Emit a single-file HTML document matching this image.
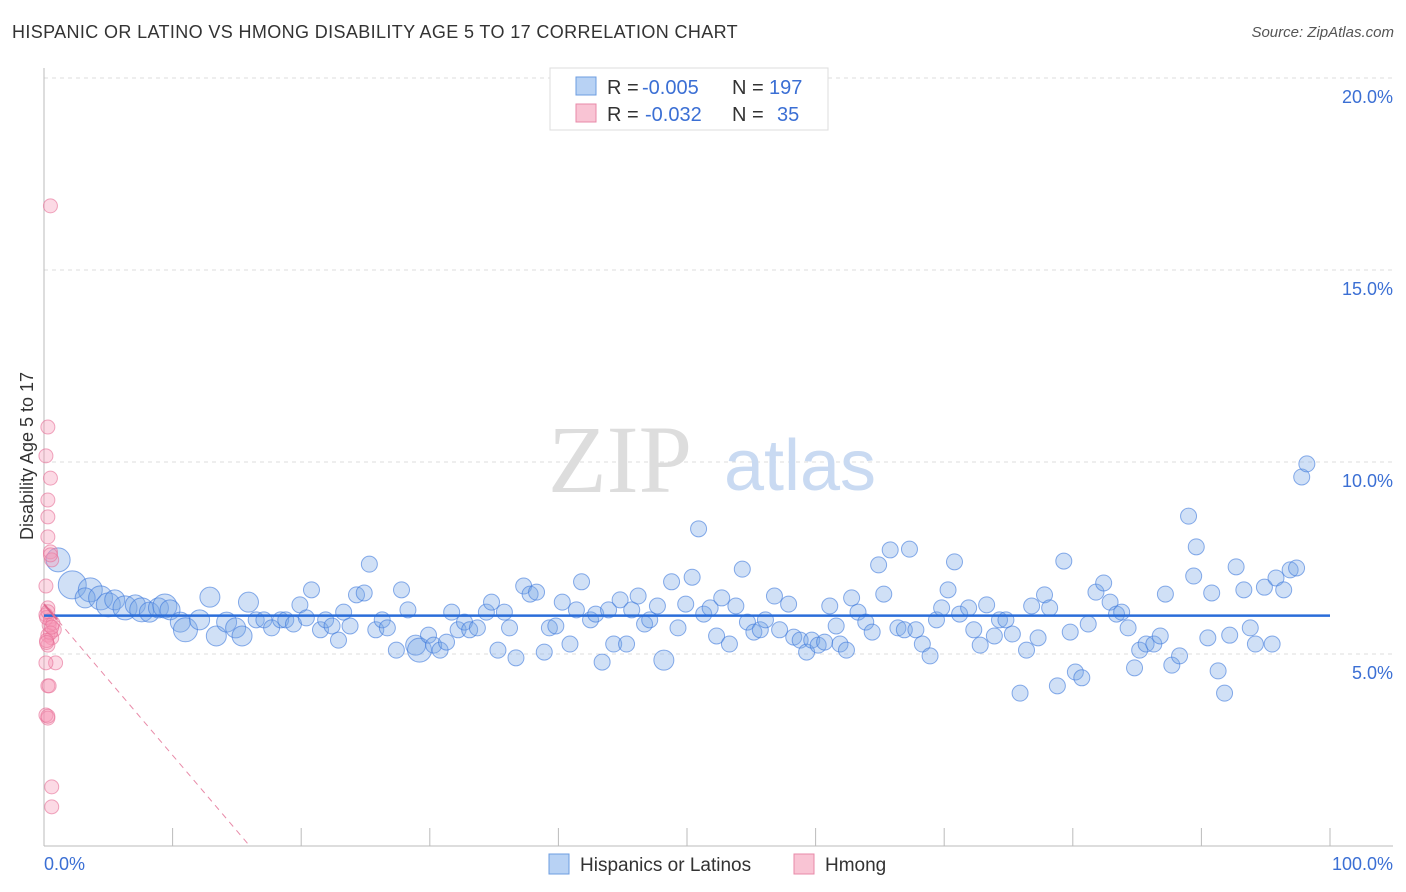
<!DOCTYPE html>
<html><head><meta charset="utf-8"><style>
body{margin:0;background:#fff;font-family:"Liberation Sans",sans-serif}
#wrap{position:relative;width:1406px;height:892px;overflow:hidden}
.t{position:absolute;white-space:nowrap}
</style></head><body><div id="wrap">
<div class="t" style="left:12px;top:22px;font-size:18px;color:#333;letter-spacing:0.37px">HISPANIC OR LATINO VS HMONG DISABILITY AGE 5 TO 17 CORRELATION CHART</div>
<div class="t" style="right:12px;top:24px;font-size:15px;color:#555;font-style:italic">Source: ZipAtlas.com</div>
<svg id="svg" width="1406" height="892" style="position:absolute;left:0;top:0"></svg>
</div>
<script>
const hispX=[1.1,2.2,3.6,3.2,4.4,5.0,5.5,6.3,7.1,7.6,8.2,8.9,9.4,9.8,10.6,11.0,12.1,12.9,13.4,14.2,14.9,15.4,15.9,16.5,17.1,17.7,18.4,18.8,19.4,19.9,20.4,20.8,21.5,21.9,22.4,22.9,23.3,23.8,24.3,24.9,25.3,25.8,26.3,26.7,27.4,27.8,28.3,28.9,29.2,29.9,30.3,30.8,31.3,31.7,32.2,32.7,33.1,33.7,34.4,34.8,35.3,35.8,36.2,36.7,37.3,37.8,38.3,38.9,39.3,39.8,40.3,40.9,41.4,41.8,42.5,42.9,43.4,43.9,44.3,44.8,45.3,45.7,46.2,46.7,47.1,47.7,48.2,48.8,49.3,49.9,50.4,50.9,51.3,51.8,52.3,52.7,53.3,53.8,54.3,54.7,55.2,55.7,56.1,56.8,57.2,57.9,58.3,58.8,59.3,59.7,60.2,60.7,61.1,61.6,61.9,62.4,62.8,63.3,63.9,64.4,64.9,65.3,65.8,66.4,66.9,67.3,67.8,68.3,68.9,69.4,69.8,70.3,70.8,71.2,71.9,72.3,72.8,73.3,73.9,74.3,74.8,75.3,75.9,76.4,76.8,77.3,77.8,78.2,78.8,79.3,79.8,80.2,80.7,81.2,81.8,82.4,82.9,83.4,83.8,84.3,84.8,85.2,85.7,86.3,86.8,87.2,87.7,88.3,89.0,89.4,89.6,90.5,90.8,91.3,91.8,92.2,92.7,93.3,93.8,94.2,94.9,95.5,95.8,96.4,96.9,97.4,97.8,98.2];
const hispY=[7.45,6.80,6.67,6.46,6.46,6.28,6.41,6.20,6.28,6.15,6.09,6.20,6.25,6.15,5.83,5.63,5.89,6.48,5.47,5.83,5.68,5.47,6.35,5.89,5.89,5.68,5.89,5.89,5.78,6.28,5.94,6.67,5.63,5.89,5.73,5.36,6.09,5.73,6.54,6.59,7.34,5.63,5.89,5.68,5.10,6.67,6.15,5.23,5.10,5.49,5.23,5.10,5.31,6.09,5.63,5.83,5.63,5.68,6.09,6.35,5.10,6.09,5.68,4.90,6.77,6.56,6.61,5.05,5.68,5.73,6.35,5.26,6.15,6.88,5.89,6.04,4.79,6.15,5.26,6.41,5.26,6.15,6.51,5.78,5.89,6.25,4.84,6.88,5.68,6.30,7.00,8.26,6.04,6.20,5.47,6.46,5.26,6.25,7.21,5.83,5.57,5.63,5.89,6.51,5.63,6.30,5.44,5.36,5.05,5.36,5.23,5.31,6.25,5.73,5.26,5.10,6.46,6.09,5.83,5.57,7.32,6.56,7.71,5.68,5.63,7.73,5.63,5.26,4.95,5.89,6.20,6.67,7.40,6.04,6.20,5.63,5.23,6.28,5.47,5.89,5.89,5.52,3.98,5.10,6.25,5.42,6.54,6.20,4.17,7.42,5.57,4.53,4.38,5.78,6.61,6.85,6.35,6.04,6.09,5.68,4.64,5.10,5.26,5.26,5.47,6.56,4.71,4.95,8.59,7.03,7.79,5.42,6.59,4.56,3.98,5.49,7.27,6.67,5.68,5.26,6.74,5.26,6.98,6.67,7.19,7.24,9.61,9.95];
const hispR=[12,14,12,10,12,12,10,12,10,12,10,10,12,10,10,12,10,10,10,10,10,10,10,8,8,8,8,8,8,8,8,8,8,8,8,8,8,8,8,8,8,8,8,8,8,8,8,10,12,8,8,8,8,8,8,8,8,8,8,8,8,8,8,8,8,8,8,8,8,8,8,8,8,8,8,8,8,8,8,8,8,8,8,8,8,8,10];
const hmongX=[0.5,0.3,0.15,0.5,0.3,0.3,0.3,0.5,0.6,0.15,0.3,0.15,0.5,0.8,0.3,0.6,0.3,0.9,0.15,0.3,0.15,0.3,0.6,0.6,0.4,0.2,0.7,0.3,0.5,0.2,0.6,0.4,0.3,0.5,0.2];
const hmongY=[16.67,10.91,10.16,9.58,9.01,8.57,8.05,7.66,7.45,6.77,6.20,6.02,5.89,5.63,5.49,5.42,5.23,4.77,4.77,4.17,3.41,3.33,1.54,1.02,5.75,5.95,5.80,6.10,5.55,5.35,5.70,4.17,3.38,7.58,5.30];
const yTicks=[5,10,15,20];
const X0=44,X1=1330,YB=846,PPY=38.4;
const xs=v=>X0+(X1-X0)*v/100, ys=v=>YB-v*PPY;
const svg=document.getElementById('svg');const NS='http://www.w3.org/2000/svg';
function mk(t,a,p){const e=document.createElementNS(NS,t);for(const k in a)e.setAttribute(k,a[k]);(p||svg).appendChild(e);return e;}
let e;
yTicks.forEach(v=>{e=mk('line',{x1:44,x2:1393,y1:ys(v),y2:ys(v),stroke:'#ddd','stroke-dasharray':'4,4'});


e=mk('text',{x:1393,y:ys(v)+25,'text-anchor':'end','font-size':18,fill:'#3b6fd4','font-family':'Liberation Sans'});e.textContent=v.toFixed(1)+'%';

});
e=mk('line',{x1:44,x2:44,y1:68,y2:846,stroke:'#bbb'});
e=mk('line',{x1:44,x2:1393,y1:846,y2:846,stroke:'#bbb'});
for(let i=1;i<=10;i++){e=mk('line',{x1:xs(i*10),x2:xs(i*10),y1:828,y2:846,stroke:'#bbb'});}
e=mk('text',{x:620,y:492,'font-size':96,fill:'#ddd','font-family':'Liberation Serif','text-anchor':'middle'});e.textContent='ZIP';
e=mk('text',{x:800,y:490,'font-size':72,fill:'#c9daf2','font-family':'Liberation Sans','text-anchor':'middle'});e.textContent='atlas';
hispX.forEach((x,i)=>{e=mk('circle',{cx:xs(x),cy:ys(hispY[i]),r:hispR[i]||8,fill:'rgba(120,165,230,0.35)',stroke:'rgba(60,120,220,0.6)','stroke-width':1});

});
hmongX.forEach((x,i)=>{e=mk('circle',{cx:xs(x),cy:ys(hmongY[i]),r:7,fill:'rgba(245,150,180,0.35)',stroke:'rgba(230,110,150,0.6)','stroke-width':1});

});
e=mk('line',{x1:xs(0),x2:xs(100),y1:ys(6.0),y2:ys(6.0),stroke:'#2a6dd9','stroke-width':2.5});
e=mk('line',{x1:xs(0),x2:xs(16),y1:ys(6.3),y2:ys(0),stroke:'#e88aa8','stroke-width':1,'stroke-dasharray':'6,5'});
e=mk('line',{x1:xs(0),x2:xs(1),y1:ys(6.3),y2:ys(5.9),stroke:'#e06a90','stroke-width':2});
e=mk('text',{x:33,y:456,'font-size':18,fill:'#333','font-family':'Liberation Sans','text-anchor':'middle',transform:'rotate(-90 33 456)'});e.textContent='Disability Age 5 to 17';
e=mk('text',{x:44,y:870,'font-size':18,fill:'#3b6fd4','font-family':'Liberation Sans'});e.textContent='0.0%';
e=mk('text',{x:1393,y:870,'font-size':18,fill:'#3b6fd4','font-family':'Liberation Sans','text-anchor':'end'});e.textContent='100.0%';
const lg=mk('g',{});
mk('rect',{x:550,y:68,width:278,height:62,fill:'#fff',stroke:'#ddd'},lg);
mk('rect',{x:576,y:77,width:20,height:18,fill:'#b8d2f4',stroke:'#6d9de0'},lg);
mk('rect',{x:576,y:104,width:20,height:18,fill:'#f9c4d4',stroke:'#e88aa8'},lg);
function lt(x,y,s,c){const t=mk('text',{x:x,y:y,'font-size':20,fill:c,'font-family':'Liberation Sans'},lg);t.textContent=s;return t;}
lt(607,94,'R =','#333');lt(642,94,'-0.005','#3b6fd4');lt(732,94,'N =','#333');lt(769,94,'197','#3b6fd4');
lt(607,121,'R =','#333');lt(645,121,'-0.032','#3b6fd4');lt(732,121,'N =','#333');lt(777,121,'35','#3b6fd4');
const bl=mk('g',{});
mk('rect',{x:549,y:854,width:20,height:20,fill:'#b8d2f4',stroke:'#6d9de0'},bl);
mk('rect',{x:794,y:854,width:20,height:20,fill:'#f9c4d4',stroke:'#e88aa8'},bl);
let b=mk('text',{x:580,y:871,'font-size':19,fill:'#333','font-family':'Liberation Sans'},bl);b.textContent='Hispanics or Latinos';
b=mk('text',{x:825,y:871,'font-size':19,fill:'#333','font-family':'Liberation Sans'},bl);b.textContent='Hmong';
</script></body></html>
